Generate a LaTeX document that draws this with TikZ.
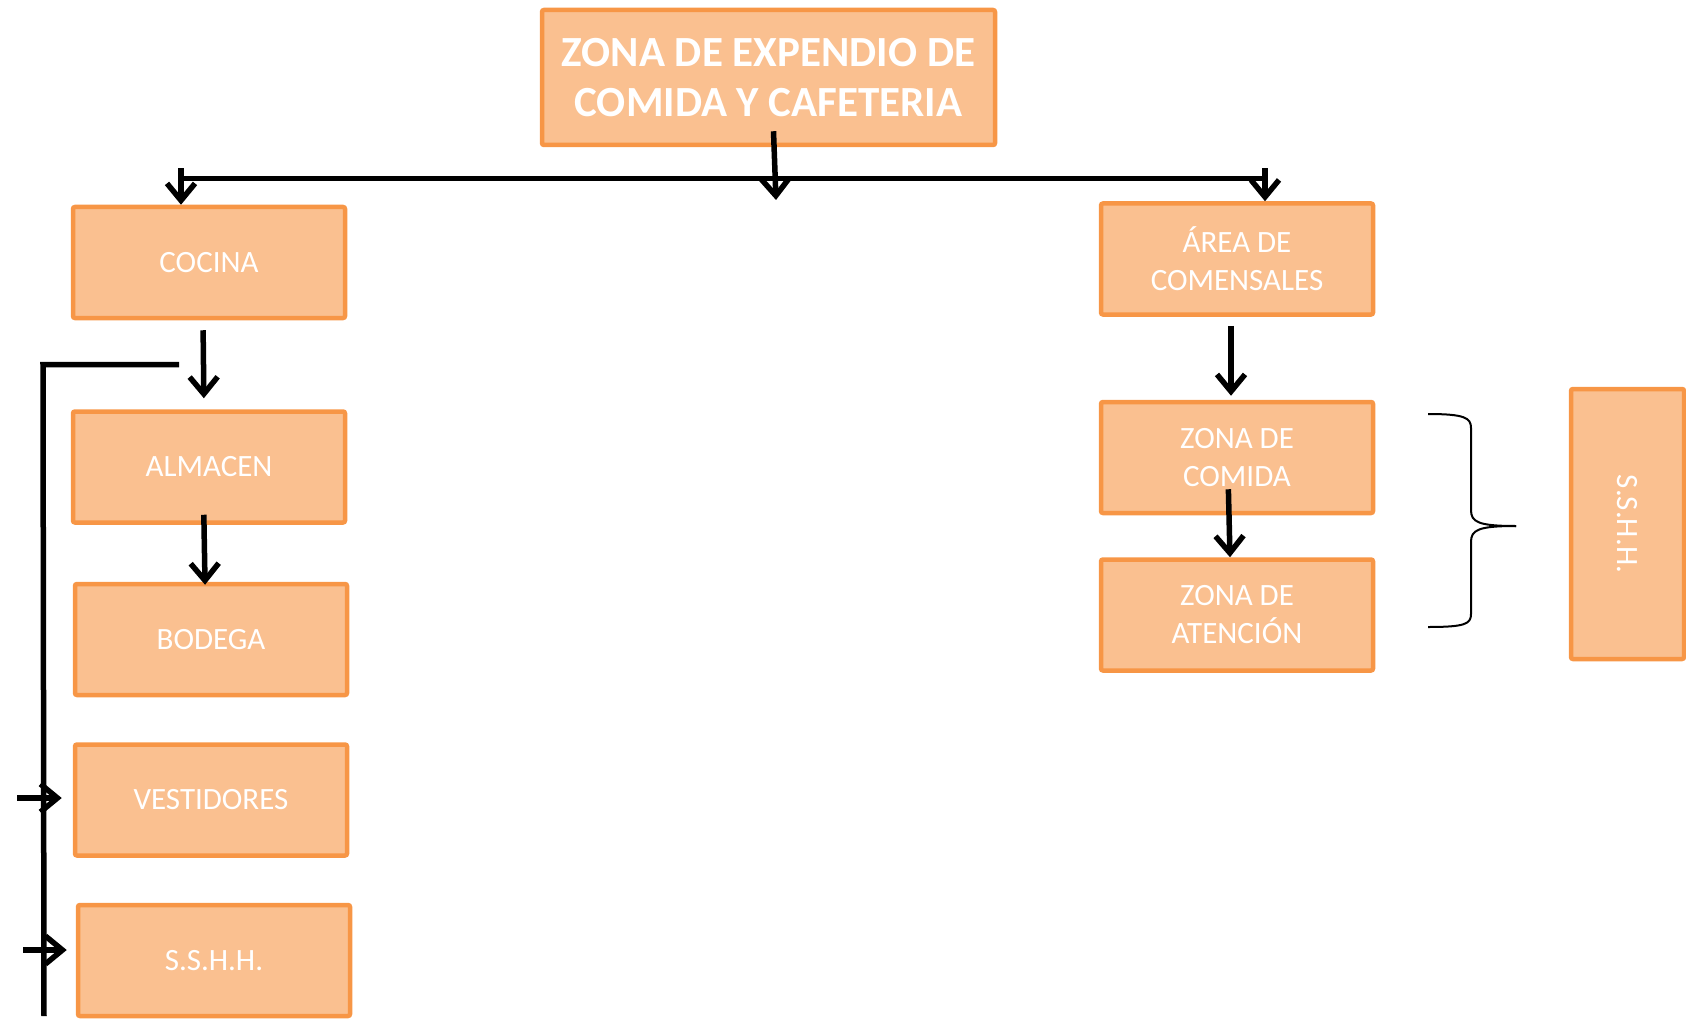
\documentclass[tikz,border=0pt]{standalone}
\usepackage{fontspec}
\setmainfont{Carlito}
\usetikzlibrary{arrows.meta, positioning}

\definecolor{borde}{HTML}{F79646}
\definecolor{relleno}{HTML}{FAC090}

\begin{document}
\begin{tikzpicture}[
    x=1pt, y=-1pt,
    zona/.style={rectangle, rounded corners=2pt, draw=borde, fill=relleno, line width=4.5pt, text=white, align=center, inner sep=0pt, minimum width=272pt, minimum height=111pt, font=\fontsize{31}{38}\selectfont},
    titulo/.style={zona, minimum width=453pt, minimum height=135pt, font=\bfseries\fontsize{43}{50}\selectfont},
    arrow/.style={-{Straight Barb[length=17pt, width=28pt]}, line width=5.5pt},
    conector/.style={line width=5.5pt},
    llave/.style={line width=2pt}
]
\useasboundingbox (0,0) rectangle (1686,1019);

% Title
\node[titulo] (zona) at (768.5,77.5) {ZONA DE EXPENDIO DE\\COMIDA Y CAFETERIA};

% Left column
\node[zona] (cocina) at (209,262.5) {COCINA};
\node[zona, below=89pt of cocina] (almacen) {ALMACEN};
\node[zona, below=57pt of almacen, xshift=2pt] (bodega) {BODEGA};
\node[zona, below=45pt of bodega] (vest) {VESTIDORES};
\node[zona, below=45pt of vest, xshift=3pt] (sshhl) {S.S.H.H.};

% Right column
\node[zona] (area) at (1237,259) {ÁREA DE\\COMENSALES};
\node[zona, below=83pt of area] (comida) {ZONA DE\\COMIDA};
\node[zona, below=42pt of comida] (atencion) {ZONA DE\\ATENCIÓN};
\node[zona, minimum width=113pt, minimum height=270pt] (sshhr) at (1627.5,524) {};
\node[rotate=-90, text=white, font=\fontsize{31}{38}\selectfont] at (sshhr.center) {S.S.H.H.};

% Main branch
\coordinate (tl) at (181,178.5);
\coordinate (tr) at (1265,178.5);
\coordinate (tm) at (776,200);
\draw [conector] (tl) -- (tr);
\draw [arrow] ([xshift=5pt, yshift=16pt]zona.south) -- (tm);
\draw [arrow] ([yshift=10pt]tl) -- (tl |- cocina.north);
\draw [arrow] ([yshift=10pt]tr) -- (tr |- area.north);

% Arrows
\draw [arrow, shorten <=10pt, shorten >=11pt] ([xshift=-6pt]cocina.south) -- ([xshift=-5pt]almacen.north);
\draw [arrow, shorten <=-10pt, shorten >=-3pt] ([xshift=-5pt]almacen.south) -- ([xshift=-6pt]bodega.north);
\draw [arrow, shorten <=9pt, shorten >=4pt] ([xshift=-6pt]area.south) -- ([xshift=-6pt]area.south |- comida.north);
\draw [arrow, shorten <=-26pt] ([xshift=-8pt]comida.south) -- ([xshift=-7pt]atencion.north);

% Side branch
\coordinate (bk) at (179,364.5);
\coordinate (bl) at (43,364.5);
\coordinate (bb) at (44,1016);
\draw [conector] (bk) -- (bl) -- (bb);
\coordinate (va) at (17,798);
\coordinate (sa) at (23,950);
\draw [arrow, shorten >=11pt] (va) -- (va -| vest.west);
\draw [arrow, shorten >=9pt] (sa) -- (sa -| sshhl.west);

% Brace
\draw [llave] (1428,414) .. controls (1465,414) and (1471,418) .. (1471,428) -- (1471,510) .. controls (1471,522) and (1478,526) .. (1516,526);
\draw [llave] (1516,526) .. controls (1478,526) and (1471,530) .. (1471,542) -- (1471,614) .. controls (1471,624) and (1465,627) .. (1428,627);

\end{tikzpicture}
\end{document}
